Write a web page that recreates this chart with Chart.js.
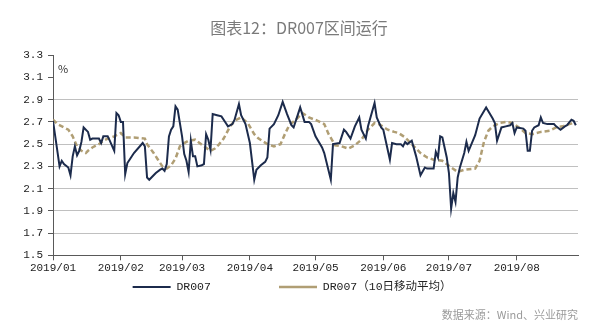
<!DOCTYPE html>
<html>
<head>
<meta charset="utf-8">
<script src="https://cdn.jsdelivr.net/npm/chart.js@4.4.1/dist/chart.umd.min.js"></script>
<style>
  html, body { margin: 0; padding: 0; background: #fff; }
</style>
</head>
<body>
<canvas id="rateChart" width="600" height="327"></canvas>
<script>
// Days counted from 2019-01-02 (day 0); month labels sit on the 2nd of each month
const tickDays = [0, 31, 59, 90, 120, 151, 181, 212];
const tickLabels = ["2019/01", "2019/02", "2019/03", "2019/04", "2019/05", "2019/06", "2019/07", "2019/08"];

// DR007 daily fixing (%)
const dr007Days = [0, 3, 4, 5, 7, 8, 9, 10, 11, 12, 13, 14, 16, 17, 18, 21, 22, 23, 25, 26,
  28, 29, 30, 31, 32, 33, 34, 35, 37, 41, 42, 43, 44, 46, 47, 49, 50, 51, 52, 53,
  54, 55, 56, 57, 59, 60, 61, 62, 63, 64, 65, 66, 68, 69, 70, 71, 72, 73, 75, 77,
  79, 80, 82, 83, 85, 86, 88, 90, 92, 93, 95, 97, 98, 99, 101, 103, 105, 107, 109, 110,
  112, 113, 115, 117, 118, 120, 123, 124, 127, 128, 131, 133, 134, 136, 138, 140, 141, 143, 144, 147,
  148, 150, 151, 152, 154, 155, 157, 159, 160, 161, 162, 164, 166, 168, 170, 171, 174, 175, 176, 177,
  178, 180, 181, 182, 183, 184, 185, 186, 188, 189, 190, 193, 195, 198, 201, 202, 203, 205, 207, 209,
  210, 211, 212, 215, 216, 217, 218, 219, 220, 222, 223, 224, 226, 229, 230, 232, 234, 235, 237, 238, 239];
const dr007 = [2.71, 2.30, 2.35, 2.32, 2.29, 2.22, 2.39, 2.48, 2.40, 2.44, 2.52, 2.65, 2.61, 2.54, 2.55, 2.55, 2.51, 2.57, 2.57, 2.53,
  2.44, 2.78, 2.76, 2.70, 2.70, 2.23, 2.33, 2.36, 2.42, 2.51, 2.48, 2.20, 2.18, 2.22, 2.24, 2.27, 2.28, 2.26, 2.32, 2.57,
  2.63, 2.66, 2.84, 2.81, 2.57, 2.41, 2.35, 2.25, 2.53, 2.39, 2.39, 2.30, 2.31, 2.32, 2.59, 2.54, 2.45, 2.77, 2.76, 2.75,
  2.69, 2.66, 2.68, 2.72, 2.86, 2.76, 2.68, 2.51, 2.18, 2.27, 2.31, 2.34, 2.38, 2.64, 2.68, 2.76, 2.88, 2.77, 2.67, 2.65,
  2.77, 2.83, 2.70, 2.70, 2.68, 2.57, 2.47, 2.42, 2.18, 2.50, 2.51, 2.63, 2.61, 2.55, 2.66, 2.74, 2.63, 2.55, 2.66, 2.87,
  2.74, 2.65, 2.63, 2.54, 2.36, 2.51, 2.50, 2.50, 2.48, 2.52, 2.50, 2.53, 2.39, 2.22, 2.29, 2.28, 2.28, 2.43, 2.38, 2.57,
  2.56, 2.38, 2.24, 1.92, 2.06, 1.98, 2.20, 2.29, 2.42, 2.52, 2.44, 2.58, 2.73, 2.83, 2.73, 2.69, 2.53, 2.65, 2.66, 2.67,
  2.69, 2.60, 2.65, 2.64, 2.62, 2.44, 2.44, 2.62, 2.65, 2.67, 2.74, 2.69, 2.68, 2.68, 2.66, 2.63, 2.66, 2.67, 2.72, 2.71, 2.67];

// 10-day moving average (%)
const maDays = [0, 2, 5, 7, 9, 11, 13, 15, 16, 18, 21, 23, 25, 28, 31, 33, 37, 42, 43, 46,
  48, 50, 52, 54, 56, 58, 60, 62, 65, 67, 69, 72, 74, 76, 78, 81, 83, 86, 89, 92,
  94, 98, 101, 104, 106, 108, 111, 114, 117, 121, 124, 126, 129, 132, 135, 138, 141, 144, 147, 149,
  153, 156, 158, 161, 164, 168, 171, 174, 178, 182, 185, 188, 193, 195, 197, 199, 201, 204, 207, 210,
  213, 216, 219, 223, 227, 230, 233, 236, 238];
const ma10 = [2.72, 2.68, 2.65, 2.63, 2.57, 2.48, 2.44, 2.42, 2.44, 2.47, 2.50, 2.53, 2.55, 2.57, 2.60, 2.56, 2.56, 2.55, 2.50, 2.42,
  2.36, 2.30, 2.28, 2.31, 2.37, 2.48, 2.51, 2.53, 2.54, 2.51, 2.48, 2.44, 2.46, 2.50, 2.55, 2.66, 2.71, 2.74, 2.69, 2.59,
  2.55, 2.50, 2.48, 2.50, 2.59, 2.67, 2.72, 2.78, 2.74, 2.71, 2.68, 2.59, 2.49, 2.48, 2.46, 2.49, 2.54, 2.63, 2.69, 2.68,
  2.63, 2.61, 2.60, 2.56, 2.50, 2.42, 2.38, 2.36, 2.35, 2.29, 2.25, 2.27, 2.28, 2.35, 2.52, 2.62, 2.66, 2.69, 2.70, 2.69,
  2.65, 2.60, 2.59, 2.61, 2.62, 2.65, 2.66, 2.68, 2.69];

const seriesNames = ["DR007", "DR007（10日移动平均）"];

const monoFont = "'Liberation Mono', 'Noto Sans CJK SC', monospace";
const cjkFont = "'Noto Sans CJK SC', sans-serif";

// small "%" unit marker in the top-left corner of the plot
const unitMark = {
  id: "unitMark",
  afterDraw(chart) {
    const { ctx, chartArea } = chart;
    ctx.save();
    ctx.font = "11px " + cjkFont;
    ctx.fillStyle = "#333";
    ctx.textBaseline = "middle";
    ctx.fillText("%", chartArea.left + 5, chartArea.top + 14);
    ctx.restore();
  }
};

const toPoints = (xs, ys) => xs.map((d, i) => ({ x: d, y: ys[i] }));

new Chart(document.getElementById("rateChart"), {
  type: "line",
  data: {
    datasets: [
      {
        label: seriesNames[0],
        data: toPoints(dr007Days, dr007),
        borderColor: "#1c2b4c",
        borderWidth: 2,
        pointRadius: 0,
        tension: 0
      },
      {
        label: seriesNames[1],
        data: toPoints(maDays, ma10),
        borderColor: "#b09e74",
        borderWidth: 2.5,
        borderDash: [5, 3],
        pointRadius: 0,
        tension: 0
      }
    ]
  },
  options: {
    responsive: false,
    animation: false,
    layout: { padding: { left: 20, right: 22, top: 0, bottom: 0 } },
    plugins: {
      title: {
        display: true,
        text: "图表12：DR007区间运行",
        color: "#7a7a7a",
        font: { family: cjkFont, size: 16, weight: "normal" },
        padding: { top: 18, bottom: 18 }
      },
      subtitle: {
        display: true,
        position: "bottom",
        align: "end",
        text: "数据来源：Wind、兴业研究",
        color: "#9a9a9a",
        font: { family: cjkFont, size: 11, weight: "normal" },
        padding: { top: 5, bottom: 6 }
      },
      legend: {
        position: "bottom",
        labels: {
          usePointStyle: true,
          pointStyle: "line",
          pointStyleWidth: 38,
          color: "#222",
          font: { family: monoFont, size: 11.5 },
          padding: 6,
          generateLabels(chart) {
            const items = Chart.defaults.plugins.legend.labels.generateLabels(chart);
            items[0].text = items[0].text + " ".repeat(9);
            items[1].text = items[1].text + "  ";
            return items;
          }
        }
      },
      tooltip: { enabled: false }
    },
    scales: {
      x: {
        type: "linear",
        min: 0,
        max: 240,
        afterBuildTicks(scale) {
          scale.ticks = tickDays.map(v => ({ value: v }));
        },
        afterFit(scale) { scale.height = 20; },
        ticks: {
          autoSkip: false,
          maxRotation: 0,
          padding: 2,
          color: "#222",
          font: { family: monoFont, size: 11, lineHeight: 1 },
          callback(value) {
            return tickLabels[tickDays.indexOf(value)];
          }
        },
        grid: {
          drawOnChartArea: false,
          drawTicks: true,
          tickLength: 5,
          tickColor: "#595959"
        },
        border: { display: true, color: "#595959", width: 1 }
      },
      y: {
        min: 1.5,
        max: 3.3,
        afterFit(scale) { scale.width = 33; },
        ticks: {
          stepSize: 0.2,
          padding: 5,
          color: "#222",
          font: { family: monoFont, size: 11 },
          callback(value) { return value.toFixed(1); }
        },
        grid: {
          // no gridlines above 2.9
          color: ctx => (ctx.tick && ctx.tick.value > 3.0 ? "rgba(0,0,0,0)" : "#c0c0c0"),
          lineWidth: 1,
          drawTicks: true,
          tickLength: 5,
          tickColor: "#595959"
        },
        border: { display: true, color: "#595959", width: 1 }
      }
    }
  },
  plugins: [unitMark]
});
</script>
</body>
</html>
